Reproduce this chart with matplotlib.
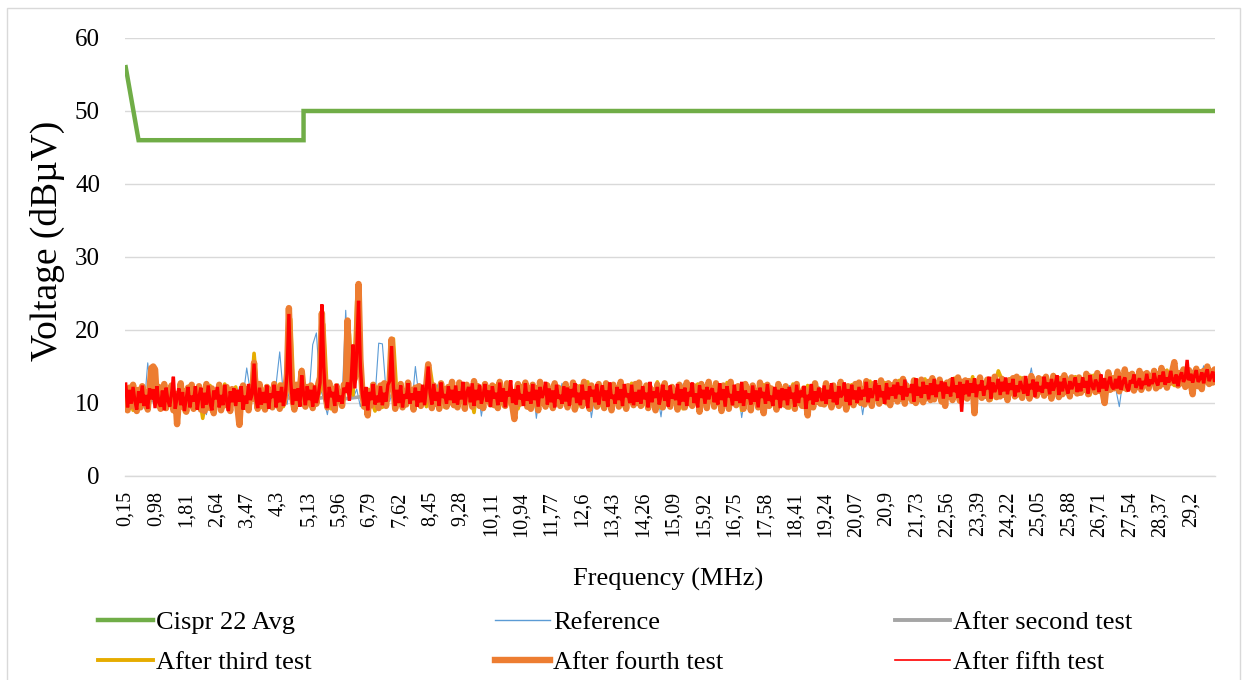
import numpy as np
import matplotlib
matplotlib.use("Agg")
import matplotlib.pyplot as plt
from matplotlib.lines import Line2D
from matplotlib.patches import Rectangle

plt.rcParams['font.family'] = ['Liberation Serif', 'DejaVu Serif']
plt.rcParams['path.simplify'] = False

# CISPR 22 average limit (dBuV)
cispr_freq = [0.15, 0.5, 5.0, 5.0, 30.0]
cispr_limit = [56, 46, 46, 50, 50]

# measured spectra, all starting at 0.15 MHz
start_freq = 0.15
dense_step = 0.05   # fourth and fifth test
fine_step = 0.1     # reference and third test
coarse_step = 0.5   # second test

reference = [
    10.8, 9.6, 11.7, 10.2, 12.1, 9.3, 15.5, 11.0, 10.4, 12.0,
    9.8, 11.3, 10.5, 12.4, 9.2, 11.6, 10.1, 8.9, 11.8, 10.7,
    11.9, 10.3, 8.4, 11.2, 10.6, 12.3, 9.5, 11.4, 10.0, 11.1,
    9.7, 12.2, 10.8, 14.8, 11.5, 10.2, 9.4, 12.0, 10.9, 11.3,
    10.6, 12.5, 17.0, 11.1, 9.8, 12.9, 10.4, 11.7, 9.6, 12.2,
    11.0, 18.0, 19.6, 12.1, 10.5, 8.4, 11.4, 10.9, 12.6, 10.2,
    22.7, 12.3, 10.6, 11.9, 9.5, 11.2, 10.3, 12.7, 10.8, 18.2,
    18.1, 11.6, 10.2, 12.4, 9.9, 11.3, 10.6, 12.0, 9.4, 15.0,
    10.7, 12.2, 9.8, 11.6, 10.3, 12.5, 9.6, 11.1, 10.4, 12.0,
    11.2, 9.5, 12.6, 10.6, 11.8, 9.9, 12.3, 8.2, 11.4, 10.8,
    12.1, 10.4, 11.6, 9.7, 12.8, 10.9, 11.3, 9.4, 12.5, 10.2,
    10.9, 12.4, 7.9, 11.7, 10.5, 12.2, 9.8, 11.5, 10.1, 12.7,
    11.4, 10.0, 12.3, 9.6, 11.9, 10.7, 12.6, 8.0, 11.2, 10.5,
    12.4, 10.8, 11.5, 9.4, 12.1, 10.3, 11.8, 9.9, 12.7, 10.6,
    10.2, 11.9, 9.5, 12.5, 10.7, 11.3, 8.1, 12.2, 10.9, 11.6,
    11.8, 10.1, 12.6, 9.7, 11.4, 10.5, 12.3, 9.3, 11.1, 12.0,
    10.4, 12.8, 9.9, 11.5, 10.7, 12.2, 9.6, 11.9, 8.0, 11.2,
    12.3, 9.5, 11.7, 10.3, 12.5, 9.8, 11.4, 10.6, 12.1, 9.7,
    11.0, 12.4, 10.2, 11.8, 9.4, 12.0, 10.8, 11.5, 9.9, 12.3,
    10.5, 11.7, 9.6, 12.6, 10.9, 11.2, 12.4, 9.8, 11.6, 10.3,
    12.0, 8.4, 11.8, 10.6, 12.7, 11.1, 10.2, 12.5, 11.4, 10.8,
    11.9, 12.8, 10.4, 13.0, 11.3, 10.7, 12.6, 11.5, 10.1, 12.9,
    10.9, 12.3, 11.6, 10.3, 13.1, 11.8, 10.6, 12.7, 11.0, 13.3,
    12.5, 11.2, 13.0, 10.5, 12.2, 11.7, 13.4, 10.9, 12.8, 11.4,
    13.2, 11.0, 12.6, 11.9, 13.5, 10.7, 12.4, 14.8, 11.6, 12.9,
    11.8, 13.4, 12.2, 11.5, 13.0, 12.7, 11.3, 13.6, 12.0, 12.5,
    13.1, 12.3, 11.6, 13.7, 12.8, 11.9, 13.3, 12.1, 13.9, 12.6,
    12.0, 9.5, 13.2, 12.4, 14.0, 12.9, 11.8, 13.5, 12.6, 14.1,
    13.3, 12.7, 14.2, 13.0, 12.5, 14.4, 13.6, 12.8, 14.7, 13.4,
    12.9, 14.5, 13.8, 13.1, 15.1, 13.6, 14.0, 13.3, 14.6,
]

second_test = [
    10.6, 10.4, 10.2, 10.5, 10.1, 10.3, 10.0, 10.4, 10.6, 10.7,
    10.5, 10.8, 10.6, 10.9, 11.0, 10.8, 11.1, 10.9, 11.0, 11.2,
    10.9, 11.1, 11.0, 10.8, 11.2, 11.0, 10.9, 11.1, 11.0, 10.8,
    11.2, 10.9, 11.1, 11.0, 10.8, 10.9, 10.7, 11.0, 11.1, 10.9,
    11.3, 11.2, 11.5, 11.4, 11.6, 11.8, 11.7, 11.9, 12.0, 11.9,
    12.1, 12.2, 12.1, 12.4, 12.3, 12.6, 12.7, 13.0, 13.2, 13.4,
]

third_test = [
    10.2, 11.5, 9.0, 10.9, 12.0, 9.7, 11.3, 13.2, 10.4, 11.8,
    9.5, 11.0, 12.3, 9.2, 10.6, 11.9, 8.8, 10.5, 12.1, 9.6,
    11.2, 7.9, 10.8, 12.4, 9.3, 11.1, 10.0, 12.6, 9.1, 10.7,
    12.2, 9.0, 10.4, 11.7, 9.8, 16.8, 11.0, 9.4, 12.0, 10.6,
    11.4, 10.0, 12.6, 9.5, 11.8, 21.5, 9.3, 11.2, 14.6, 10.1,
    9.8, 12.4, 10.5, 11.6, 20.8, 10.9, 9.2, 12.1, 11.3, 9.9,
    12.0, 19.5, 11.1, 24.0, 14.0, 9.6, 11.9, 10.3, 8.9, 11.7,
    9.4, 11.6, 12.2, 18.8, 10.6, 11.9, 9.7, 12.4, 10.0, 11.2,
    10.7, 12.1, 9.5, 14.8, 11.4, 10.2, 12.6, 9.4, 11.7, 10.5,
    11.9, 9.7, 12.3, 10.4, 11.1, 8.7, 12.5, 10.1, 11.4, 12.2,
    10.0, 12.4, 11.2, 9.6, 12.8, 10.5, 11.7, 9.2, 11.0, 12.3,
    11.6, 9.4, 12.2, 10.7, 11.3, 12.6, 9.9, 11.8, 10.4, 12.0,
    12.1, 10.6, 11.5, 9.3, 12.4, 10.1, 12.9, 10.8, 11.6, 9.5,
    10.3, 12.5, 9.8, 11.9, 10.6, 12.2, 9.4, 11.3, 12.7, 10.9,
    11.7, 9.6, 12.4, 10.8, 11.2, 12.9, 9.3, 11.6, 10.5, 12.3,
    10.9, 11.8, 9.2, 12.5, 10.4, 11.1, 12.6, 9.8, 11.4, 10.7,
    12.2, 10.3, 11.6, 9.5, 12.8, 10.9, 11.3, 12.4, 9.0, 11.7,
    10.6, 12.3, 11.1, 9.7, 12.5, 10.2, 11.8, 9.4, 12.1, 10.8,
    11.9, 9.3, 12.6, 10.5, 11.2, 9.8, 12.4, 10.7, 11.5, 12.0,
    10.1, 12.7, 9.6, 11.8, 10.4, 12.2, 11.0, 9.3, 12.5, 10.9,
    12.4, 10.8, 11.6, 13.0, 10.2, 12.3, 11.1, 12.8, 9.9, 12.0,
    11.2, 13.1, 10.6, 12.5, 11.8, 10.3, 12.9, 11.4, 13.3, 10.8,
    12.6, 11.0, 13.2, 10.7, 12.1, 11.5, 13.4, 10.9, 12.3, 11.7,
    11.3, 13.6, 10.6, 12.8, 11.9, 13.0, 10.4, 12.5, 14.4, 13.2,
    11.8, 13.3, 12.1, 10.9, 13.5, 12.4, 11.2, 13.7, 12.0, 12.8,
    13.1, 11.5, 12.7, 13.9, 11.3, 12.5, 13.4, 11.9, 12.9, 13.6,
    11.7, 13.2, 12.4, 11.1, 13.8, 12.6, 13.0, 11.8, 13.5, 12.2,
    13.7, 12.3, 13.1, 14.2, 12.0, 13.4, 12.7, 14.0, 12.2, 13.6,
    12.5, 14.1, 13.2, 12.8, 14.5, 13.0, 12.4, 14.3, 13.6, 12.9,
    14.0, 13.3, 12.6, 14.4, 13.8, 12.7, 14.2, 13.5, 15.3,
]

# 20 samples per MHz
fourth_test = [
    11.2, 9.0, 12.1, 9.6, 12.5, 10.2, 8.9, 11.8, 9.4, 12.3, 10.0, 11.4, 9.1, 12.0, 14.8, 15.0, 14.6, 10.3, 12.2, 9.2,
    10.9, 12.6, 9.3, 11.7, 10.1, 12.4, 9.0, 11.2, 7.1, 10.5, 12.7, 9.5, 11.6, 8.8, 12.1, 10.3, 12.5, 9.2, 11.4, 10.0,
    12.3, 9.1, 11.5, 8.9, 12.6, 10.4, 9.3, 12.0, 8.6, 11.3, 10.1, 12.5, 9.0, 11.8, 9.7, 12.2, 10.5, 8.9, 11.9, 10.2,
    11.6, 9.3, 7.0, 10.8, 12.4, 9.5, 11.9, 9.0, 12.3, 10.6, 15.5, 11.1, 9.2, 12.6, 9.8, 11.4, 9.1, 12.2, 10.4, 11.8,
    9.4, 12.6, 10.1, 11.8, 9.2, 12.4, 9.9, 11.3, 14.0, 23.0, 15.0, 10.6, 9.1, 12.5, 10.3, 12.0, 14.4, 11.6, 9.5, 12.2,
    10.8, 12.4, 9.3, 11.7, 9.9, 12.6, 13.5, 22.3, 14.5, 11.2, 9.4, 12.8, 10.3, 11.9, 9.0, 12.3, 10.5, 11.4, 9.6, 12.5,
    12.0, 21.3, 13.0, 12.3, 12.8, 13.4, 16.5, 26.3, 16.0, 11.8, 9.5, 10.8, 8.3, 11.6, 9.7, 12.5, 10.2, 11.9, 9.3, 12.4,
    10.0, 12.7, 9.6, 12.2, 13.0, 18.7, 12.5, 9.2, 12.0, 10.3, 12.6, 9.4, 11.5, 9.8, 12.8, 10.5, 11.7, 9.1, 12.1, 10.4,
    12.3, 9.6, 11.8, 10.2, 12.6, 15.3, 11.0, 9.3, 12.4, 9.9, 11.6, 9.2, 12.7, 10.5, 11.9, 9.5, 12.2, 10.1, 12.9, 9.7,
    11.4, 9.4, 12.8, 10.3, 12.1, 9.2, 12.5, 10.7, 11.6, 9.5, 13.0, 10.0, 12.3, 9.6, 11.9, 9.3, 12.6, 10.4, 12.0, 9.8,
    12.4, 9.7, 11.8, 9.3, 12.9, 10.2, 11.5, 9.6, 12.7, 10.5, 11.2, 9.4, 7.8, 11.0, 12.6, 9.9, 12.2, 10.3, 12.8, 9.5,
    11.7, 9.2, 12.5, 10.4, 12.0, 9.0, 12.9, 10.1, 11.6, 9.5, 12.4, 10.6, 11.3, 9.3, 12.7, 10.0, 12.1, 9.6, 11.8, 10.3,
    12.6, 9.4, 11.9, 10.2, 12.8, 9.1, 12.2, 10.5, 11.5, 9.6, 12.9, 10.0, 11.7, 9.2, 12.4, 10.7, 11.3, 9.5, 12.6, 10.1,
    11.4, 9.3, 12.7, 10.4, 12.0, 9.0, 12.5, 10.6, 11.8, 9.5, 12.9, 9.9, 11.6, 9.2, 12.3, 10.3, 11.9, 9.7, 12.6, 10.0,
    12.8, 9.6, 11.5, 10.1, 12.4, 9.3, 12.1, 10.6, 11.7, 9.0, 12.5, 10.2, 11.9, 9.4, 12.7, 10.0, 11.3, 9.5, 12.2, 10.8,
    11.6, 9.1, 12.5, 10.3, 11.9, 9.4, 12.8, 10.0, 11.5, 9.6, 12.3, 10.5, 12.0, 8.8, 12.6, 10.2, 11.4, 9.3, 12.9, 10.6,
    11.2, 9.5, 12.7, 10.1, 12.2, 8.9, 12.4, 10.4, 11.8, 9.2, 12.9, 10.0, 11.5, 9.7, 12.3, 10.6, 12.0, 9.2, 12.6, 10.3,
    11.9, 9.0, 12.4, 10.5, 11.6, 9.4, 12.8, 10.1, 8.6, 11.3, 12.5, 9.6, 12.0, 10.3, 11.7, 9.1, 12.6, 10.4, 11.4, 9.8,
    12.3, 9.5, 11.7, 10.3, 12.2, 9.2, 12.6, 10.0, 11.5, 9.6, 12.0, 10.4, 8.3, 11.5, 12.1, 9.4, 12.7, 10.2, 11.8, 9.9,
    11.6, 9.8, 12.7, 10.2, 12.0, 9.4, 12.4, 10.6, 11.1, 9.6, 12.9, 10.0, 11.8, 9.1, 12.3, 10.5, 12.1, 9.7, 12.6, 10.3,
    12.8, 10.0, 11.9, 9.8, 13.0, 10.4, 12.1, 9.6, 12.6, 10.7, 12.3, 9.9, 13.1, 10.3, 11.8, 10.1, 12.7, 9.7, 12.4, 10.6,
    12.9, 10.2, 12.3, 10.6, 13.3, 9.9, 12.4, 10.8, 12.0, 10.3, 13.1, 10.0, 12.6, 10.5, 13.2, 10.1, 12.2, 10.7, 12.9, 10.4,
    13.4, 10.5, 12.7, 11.1, 13.2, 10.2, 12.5, 9.6, 12.8, 10.9, 13.0, 10.4, 12.6, 11.0, 13.5, 10.3, 12.9, 10.8, 13.1, 10.6,
    13.0, 11.2, 12.4, 8.6, 12.8, 11.3, 13.5, 10.7, 12.6, 11.0, 13.2, 10.5, 12.9, 11.4, 13.6, 10.8, 12.7, 10.9, 13.3, 11.1,
    12.6, 10.4, 13.1, 11.8, 13.4, 10.9, 13.6, 11.2, 12.8, 10.7, 13.3, 11.5, 12.9, 10.6, 13.7, 11.3, 12.5, 11.0, 13.4, 11.6,
    13.2, 11.0, 13.6, 11.4, 12.7, 10.6, 13.7, 11.9, 12.8, 10.8, 13.3, 11.2, 13.8, 11.6, 12.9, 10.9, 13.5, 11.7, 13.1, 11.3,
    13.5, 11.4, 12.9, 11.8, 14.0, 11.2, 13.6, 11.9, 13.3, 11.5, 14.1, 11.7, 13.0, 11.3, 10.0, 12.4, 14.2, 11.8, 13.4, 12.0,
    12.8, 14.3, 11.6, 13.6, 12.1, 14.6, 11.9, 13.8, 12.4, 14.0, 11.7, 13.5, 12.2, 14.4, 11.8, 13.9, 12.5, 14.1, 12.0, 13.7,
    13.1, 14.4, 12.0, 13.9, 12.3, 14.8, 12.6, 14.2, 12.1, 13.7, 12.8, 14.5, 15.6, 13.3, 12.4, 14.1, 12.7, 14.6, 12.2, 13.8,
    14.5, 12.6, 11.2, 13.9, 14.7, 12.3, 14.2, 11.9, 14.4, 13.0, 15.0, 12.6, 14.3, 12.8, 14.6, 13.1, 14.5,
]

fifth_test = [
    12.6, 9.4, 11.8, 9.9, 12.2, 10.3, 9.1, 11.6, 10.0, 12.4, 9.6, 11.1, 9.2, 12.0, 10.5, 11.9, 9.3, 12.3, 10.1, 9.5,
    11.7, 9.0, 12.1, 10.4, 9.5, 11.3, 13.6, 9.2, 10.8, 12.0, 9.7, 11.5, 8.9, 10.6, 12.2, 9.4, 11.0, 10.2, 12.3, 9.1,
    10.9, 12.1, 9.3, 11.4, 9.8, 12.4, 10.0, 9.0, 11.7, 10.5, 12.2, 9.4, 11.1, 9.7, 12.5, 10.3, 8.9, 11.6, 10.1, 12.0,
    9.6, 11.8, 10.2, 12.3, 9.1, 11.0, 9.9, 12.6, 10.4, 11.2, 15.4, 10.6, 9.3, 12.1, 9.8, 11.5, 10.0, 12.4, 9.2, 11.3,
    10.7, 12.5, 9.4, 11.6, 10.1, 12.2, 9.6, 11.0, 14.0, 22.2, 13.0, 9.8, 11.9, 10.3, 12.0, 9.5, 13.8, 11.2, 9.7, 12.3,
    10.4, 11.8, 9.5, 12.4, 10.0, 11.1, 12.8, 23.5, 15.0, 10.6, 9.3, 12.2, 10.8, 11.5, 9.6, 12.6, 10.2, 11.0, 9.9, 12.1,
    11.4, 12.8, 10.3, 13.2, 18.0, 12.0, 17.0, 24.0, 15.0, 11.3, 9.6, 12.2, 9.0, 11.5, 10.4, 12.6, 9.8, 11.0, 10.1, 12.3,
    9.7, 11.4, 10.2, 12.5, 13.0, 17.8, 12.2, 9.6, 11.8, 10.0, 12.4, 9.4, 11.2, 10.6, 12.7, 9.9, 11.3, 10.4, 12.1, 9.5,
    11.6, 10.1, 12.5, 9.7, 12.0, 15.0, 11.4, 9.8, 12.6, 10.3, 11.5, 9.6, 12.8, 10.7, 11.2, 9.9, 12.3, 10.4, 11.8, 10.0,
    12.4, 9.8, 11.6, 10.5, 12.9, 9.7, 11.3, 12.2, 10.1, 12.7, 9.6, 11.8, 10.4, 12.5, 9.9, 11.1, 12.6, 10.2, 11.7, 9.5,
    12.3, 10.6, 11.4, 9.7, 12.8, 10.2, 12.0, 9.4, 11.6, 10.9, 13.1, 10.0, 11.9, 9.8, 12.4, 10.5, 11.2, 9.6, 12.7, 10.3,
    11.5, 9.9, 12.6, 10.4, 11.8, 9.5, 12.2, 10.7, 11.3, 12.9, 9.8, 12.0, 10.1, 11.7, 9.4, 12.5, 10.6, 11.1, 9.9, 12.3,
    10.2, 12.1, 9.6, 11.9, 10.8, 12.7, 10.0, 11.4, 9.7, 12.5, 10.5, 11.6, 9.3, 12.3, 10.9, 11.8, 10.1, 12.6, 9.8, 11.2,
    12.4, 10.3, 11.7, 9.5, 12.8, 10.6, 11.1, 9.9, 12.2, 10.4, 11.9, 9.6, 12.6, 10.8, 11.3, 10.0, 12.5, 9.7, 11.5, 10.2,
    11.8, 9.9, 12.3, 10.5, 11.4, 9.4, 12.9, 10.1, 11.6, 10.7, 12.2, 9.8, 11.0, 12.5, 10.3, 11.7, 9.5, 12.4, 10.6, 11.2,
    10.4, 12.6, 9.7, 11.9, 10.2, 12.1, 9.6, 11.5, 10.9, 12.8, 10.0, 11.3, 9.4, 12.4, 10.7, 11.8, 9.9, 12.2, 10.5, 11.6,
    12.0, 10.1, 11.4, 9.8, 12.7, 10.4, 11.9, 9.5, 12.3, 10.8, 11.2, 9.7, 12.5, 10.3, 11.6, 10.0, 12.9, 9.6, 11.7, 10.6,
    11.3, 9.8, 12.4, 10.2, 11.7, 9.4, 12.1, 10.7, 11.5, 9.9, 12.6, 10.3, 11.0, 9.6, 12.2, 10.5, 11.8, 9.3, 12.0, 10.4,
    11.9, 9.7, 12.2, 10.6, 11.4, 9.5, 12.5, 10.0, 11.7, 10.8, 12.3, 9.2, 11.1, 10.4, 12.6, 9.8, 11.6, 10.2, 12.1, 10.9,
    10.3, 12.4, 9.9, 11.8, 10.6, 12.7, 10.1, 11.5, 9.8, 12.3, 10.8, 11.2, 12.8, 10.2, 11.9, 9.7, 12.5, 10.5, 11.7, 10.0,
    12.2, 10.4, 11.8, 10.9, 12.9, 10.1, 12.0, 10.7, 11.5, 13.1, 10.3, 12.4, 10.8, 11.6, 9.9, 12.7, 10.5, 12.1, 11.0, 12.5,
    10.6, 12.8, 11.2, 12.3, 10.4, 13.2, 10.9, 12.0, 11.4, 12.6, 10.2, 13.4, 11.0, 12.2, 10.7, 12.9, 11.3, 12.4, 10.5, 12.7,
    11.1, 13.3, 10.8, 12.5, 11.6, 13.0, 10.6, 12.8, 11.3, 12.2, 10.9, 13.5, 11.5, 12.4, 10.7, 12.9, 8.8, 12.6, 11.2, 13.1,
    10.9, 12.7, 11.4, 13.4, 10.8, 12.5, 11.7, 13.1, 11.0, 12.3, 11.9, 13.6, 10.6, 12.8, 11.5, 12.2, 13.3, 11.1, 12.9, 11.6,
    13.5, 11.2, 12.7, 11.8, 13.3, 10.9, 12.4, 11.5, 13.0, 12.1, 11.3, 13.7, 11.0, 12.6, 11.9, 13.2, 10.8, 12.9, 11.6, 12.3,
    11.4, 13.6, 12.0, 12.8, 11.2, 13.3, 11.7, 12.5, 13.8, 11.1, 12.9, 11.6, 13.4, 12.2, 11.3, 13.0, 11.9, 12.6, 13.5, 11.5,
    12.7, 11.6, 13.5, 12.1, 13.0, 11.3, 13.8, 12.4, 11.8, 13.2, 12.6, 11.5, 13.9, 12.0, 13.4, 11.7, 12.8, 13.6, 12.2, 11.9,
    13.3, 12.0, 13.7, 11.8, 12.9, 13.5, 12.2, 11.6, 13.1, 12.7, 13.9, 12.1, 12.6, 13.4, 11.9, 13.0, 12.5, 14.0, 12.3, 13.2,
    12.6, 14.1, 13.0, 12.4, 13.8, 12.9, 14.3, 12.5, 13.5, 12.8, 14.4, 13.2, 12.7, 13.9, 12.3, 13.6, 14.2, 12.9, 13.4, 15.9,
    13.1, 14.0, 12.8, 13.7, 14.5, 12.9, 13.3, 14.2, 12.7, 13.9, 14.6, 13.0, 13.6, 14.3, 12.9, 13.8, 13.2,
]

tick_freqs = [0.15, 0.98, 1.81, 2.64, 3.47, 4.30, 5.13, 5.96, 6.79, 7.62,
              8.45, 9.28, 10.11, 10.94, 11.77, 12.60, 13.43, 14.26, 15.09,
              15.92, 16.75, 17.58, 18.41, 19.24, 20.07, 20.90, 21.73, 22.56,
              23.39, 24.22, 25.05, 25.88, 26.71, 27.54, 28.37, 29.20]
tick_labels = ['0,15', '0,98', '1,81', '2,64', '3,47', '4,3', '5,13', '5,96',
               '6,79', '7,62', '8,45', '9,28', '10,11', '10,94', '11,77',
               '12,6', '13,43', '14,26', '15,09', '15,92', '16,75', '17,58',
               '18,41', '19,24', '20,07', '20,9', '21,73', '22,56', '23,39',
               '24,22', '25,05', '25,88', '26,71', '27,54', '28,37', '29,2']

series_names = ['Cispr 22 Avg', 'Reference', 'After second test',
                'After third test', 'After fourth test', 'After fifth test']
colors = ['#70AD47', '#5B9BD5', '#A5A5A5', '#E6AC00', '#ED7D31', '#FF0000']
widths = [3.2, 0.8, 2.6, 2.6, 4.6, 2.4]
legend_widths = [3.2, 1.0, 2.8, 2.8, 4.6, 1.2]


def freqs(values, step):
    return start_freq + step * np.arange(len(values))


W, H = 1247, 680
fig = plt.figure(figsize=(W / 100, H / 100), dpi=100)
ax = fig.add_axes([125 / W, 1 - 476 / H, 1090 / W, 438 / H])

ax.plot(cispr_freq, cispr_limit, color=colors[0], lw=widths[0],
        solid_joinstyle='miter')
ax.plot(freqs(reference, fine_step), reference, color=colors[1], lw=widths[1])
ax.plot(freqs(second_test, coarse_step), second_test, color=colors[2], lw=widths[2])
ax.plot(freqs(third_test, fine_step), third_test, color=colors[3], lw=widths[3],
        solid_joinstyle='round')
ax.plot(freqs(fourth_test, dense_step), fourth_test, color=colors[4], lw=widths[4],
        solid_capstyle='round', solid_joinstyle='round')
ax.plot(freqs(fifth_test, dense_step), fifth_test, color=colors[5], lw=widths[5],
        solid_joinstyle='bevel')

ax.set_xlim(0.13, 29.86)
ax.set_ylim(0, 60)
ax.set_yticks(range(0, 61, 10))
ax.set_xticks(tick_freqs)
ax.set_xticklabels(tick_labels, rotation=90)
ax.grid(axis='y', color='#D9D9D9', lw=1.0)
ax.set_axisbelow(True)
for side in ['left', 'right', 'top']:
    ax.spines[side].set_visible(False)
ax.spines['bottom'].set_color('#D9D9D9')
ax.spines['bottom'].set_linewidth(1.0)
ax.tick_params(axis='x', length=0, pad=11, labelsize=14.5)
ax.tick_params(axis='y', length=0, pad=18, labelsize=18)

fig.text(47 / W, 1 - 241 / H, 'Voltage (dBµV)', rotation=90, fontsize=27,
         ha='center', va='center')
fig.text(668 / W, 1 - 579 / H, 'Frequency (MHz)', fontsize=19,
         ha='center', va='center')

# legend laid out as three columns of two rows
handles = [Line2D([], [], color=c, lw=w) for c, w in zip(colors, legend_widths)]
col_x = [98, 495, 895]
for i, x in enumerate(col_x):
    fig.legend([handles[i], handles[i + 3]], [series_names[i], series_names[i + 3]],
               loc='upper left', bbox_to_anchor=(x / W, 1 - 611 / H),
               frameon=False, fontsize=19, handlelength=2.1, handletextpad=0.1,
               labelspacing=0.62, borderpad=0, borderaxespad=0)

fig.patches.append(Rectangle((7 / W, -0.05), 1233 / W, 1 - 8 / H + 0.05,
                             transform=fig.transFigure, fill=False,
                             edgecolor='#D9D9D9', lw=1.0))

fig.savefig('out.png', dpi=100)
